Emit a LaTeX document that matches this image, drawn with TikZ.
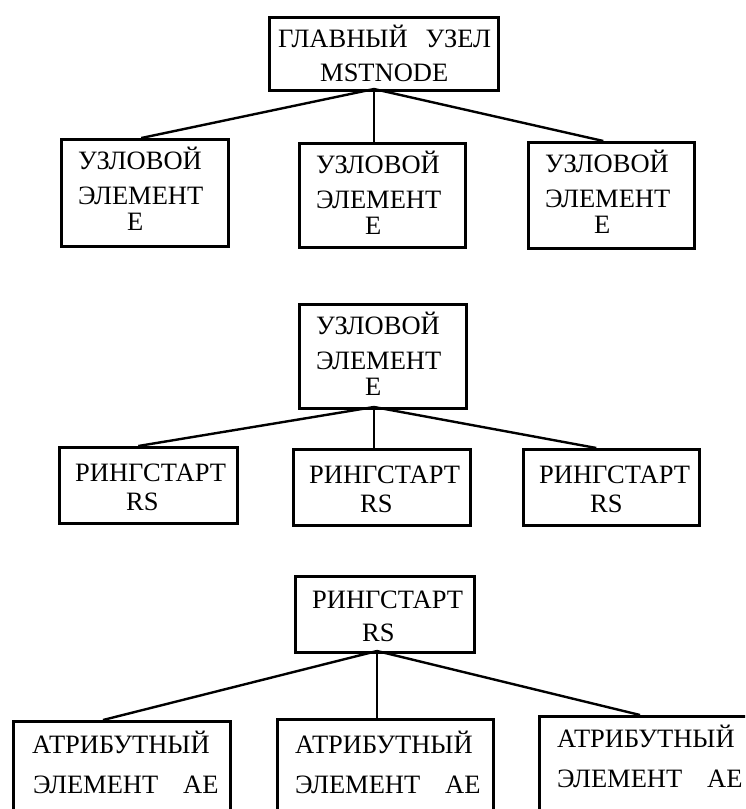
\documentclass[tikz,border=0pt]{standalone}
\usepackage{fontspec}
\setmainfont{Liberation Serif}
\begin{document}
\begin{tikzpicture}[x=1pt,y=-1pt,
  box/.style={draw, line width=2.6pt, rectangle, inner sep=0pt, anchor=north west},
  txt/.style={inner sep=0pt, anchor=base west, font=\fontsize{26.5}{30}\selectfont},
  link/.style={line width=2.4pt}]
\useasboundingbox (0,0) rectangle (745,809);
\clip (0,0) rectangle (745,809);

% ---- tier 1: main node and its element nodes ----
\node[box, minimum width=229pt, minimum height=73pt] (a) at (268,16) {};
\node[txt] (a-t1) at (278,47) {ГЛАВНЫЙ\hspace{18pt}УЗЕЛ};
\node[txt] (a-t2) at (320,81) {MSTNODE};

\node[box, minimum width=167pt, minimum height=107pt] (b1) at (60,138) {};
\node[box, minimum width=166pt, minimum height=104pt] (b2) at (298,142) {};
\node[box, minimum width=166pt, minimum height=106pt] (b3) at (527,141) {};
\foreach \b in {b1,b2,b3}{
  \node[txt] (\b-t1) at ([xshift=18pt,yshift=-31pt]\b.north west) {УЗЛОВОЙ};
  \node[txt] (\b-t2) at ([xshift=18pt,yshift=-66pt]\b.north west) {ЭЛЕМЕНТ};
  \node[txt] (\b-t3) at ([xshift=67pt,yshift=-92pt]\b.north west) {Е};
}

\coordinate (a-out) at (374,89);
\coordinate (b1-in) at ([xshift=-3.5pt]b1.north);
\coordinate (b3-in) at ([xshift=-8pt]b3.north);
\draw[link] (a-out) -- (b1-in);
\draw[link] (a-out) -- (a-out |- b2.north);
\draw[link] (a-out) -- (b3-in);

% ---- tier 2: element node and its ring starts ----
\node[box, minimum width=167pt, minimum height=104pt] (c) at (298,303) {};
\node[txt] (c-t1) at ([xshift=18pt,yshift=-31pt]c.north west) {УЗЛОВОЙ};
\node[txt] (c-t2) at ([xshift=18pt,yshift=-66pt]c.north west) {ЭЛЕМЕНТ};
\node[txt] (c-t3) at ([xshift=67pt,yshift=-92pt]c.north west) {Е};

\node[box, minimum width=178pt, minimum height=76pt] (d1) at (58,446) {};
\node[box, minimum width=177pt, minimum height=76pt] (d2) at (292,448) {};
\node[box, minimum width=176pt, minimum height=76pt] (d3) at (522,448) {};
\foreach \d in {d1,d2,d3}{
  \node[txt] (\d-t1) at ([xshift=17pt,yshift=-35pt]\d.north west) {РИНГСТАРТ};
  \node[txt] (\d-t2) at ([xshift=68pt,yshift=-64pt]\d.north west) {RS};
}

\coordinate (c-out) at (374,407);
\coordinate (d1-in) at ([xshift=-10pt]d1.north);
\coordinate (d3-in) at ([xshift=-15pt]d3.north);
\draw[link] (c-out) -- (d1-in);
\draw[link] (c-out) -- (c-out |- d2.north);
\draw[link] (c-out) -- (d3-in);

% ---- tier 3: ring start and its attribute elements ----
\node[box, minimum width=179pt, minimum height=76pt] (e) at (294,575) {};
\node[txt] (e-t1) at ([xshift=18pt,yshift=-33pt]e.north west) {РИНГСТАРТ};
\node[txt] (e-t2) at ([xshift=68pt,yshift=-66pt]e.north west) {RS};

\node[box, minimum width=217pt, minimum height=120pt] (f1) at (12,720) {};
\node[box, minimum width=216pt, minimum height=120pt] (f2) at (276,718) {};
\node[box, minimum width=230pt, minimum height=120pt] (f3) at (538,715) {};
\node[txt] (f1-t1) at ([xshift=20pt,yshift=-33pt]f1.north west) {АТРИБУТНЫЙ};
\node[txt] (f1-t2) at ([xshift=21pt,yshift=-73pt]f1.north west) {ЭЛЕМЕНТ\hspace{25pt}АЕ};
\node[txt] (f2-t1) at ([xshift=19pt,yshift=-35pt]f2.north west) {АТРИБУТНЫЙ};
\node[txt] (f2-t2) at ([xshift=19pt,yshift=-75pt]f2.north west) {ЭЛЕМЕНТ\hspace{25pt}АЕ};
\node[txt] (f3-t1) at ([xshift=19pt,yshift=-32pt]f3.north west) {АТРИБУТНЫЙ};
\node[txt] (f3-t2) at ([xshift=19pt,yshift=-72pt]f3.north west) {ЭЛЕМЕНТ\hspace{25pt}АЕ};

\coordinate (e-out) at (377,651);
\coordinate (f1-in) at (103,720);
\coordinate (f3-in) at (640,715);
\draw[link] (e-out) -- (f1-in);
\draw[link] (e-out) -- (e-out |- f2.north);
\draw[link] (e-out) -- (f3-in);
\end{tikzpicture}
\end{document}
